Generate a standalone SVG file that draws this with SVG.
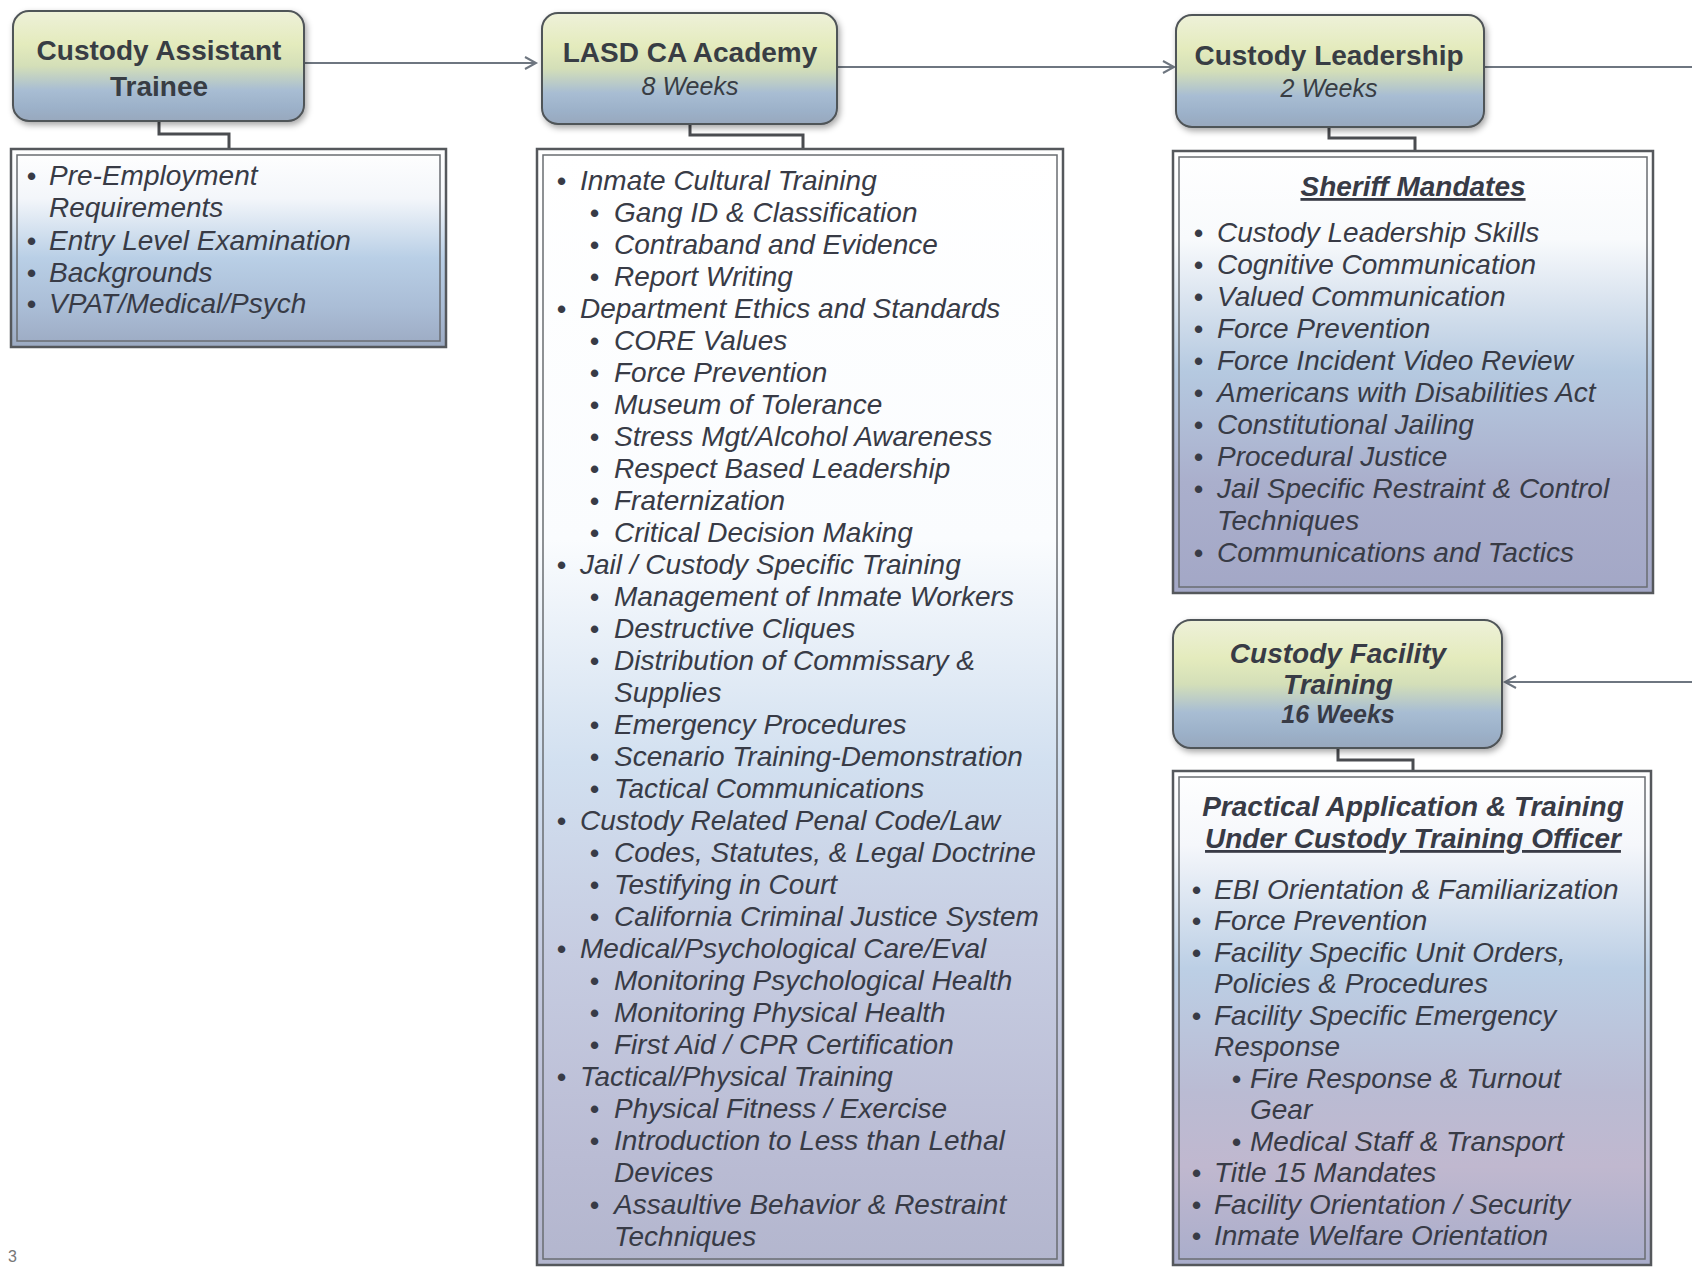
<svg xmlns="http://www.w3.org/2000/svg" width="1692" height="1269" viewBox="0 0 1692 1269">
  <style>
    .hdr { stroke: #505458; stroke-width: 2; }
    .ht { font-family: "Liberation Sans", Arial, sans-serif; font-size: 28px; font-weight: bold; fill: #383d44; text-anchor: middle; }
    .hw { font-family: "Liberation Sans", Arial, sans-serif; font-size: 25px; font-style: italic; fill: #383d44; text-anchor: middle; }
    .frame { stroke: #55585c; stroke-width: 2.5; }
    .inner { fill: none; stroke: #6a6d72; stroke-width: 1.5; }
    .it { font-family: "Liberation Sans", Arial, sans-serif; font-size: 28px; font-style: italic; fill: #383b46; }
    .ttl { font-family: "Liberation Sans", Arial, sans-serif; font-size: 28px; font-style: italic; font-weight: bold; fill: #383b46; text-anchor: middle; }
    .b { font-family: "Liberation Sans", Arial, sans-serif; font-size: 26px; font-weight: bold; fill: #383b46; }
    .flow { fill: none; stroke: #6e7680; stroke-width: 2; }
    .elbow { fill: none; stroke: #4a4c50; stroke-width: 3; }
  </style>
  <defs>
    <linearGradient id="gHdr" x1="0" y1="0" x2="0" y2="1">
      <stop offset="0" stop-color="#eef1d9"/>
      <stop offset="0.3" stop-color="#e4ebbd"/>
      <stop offset="0.5" stop-color="#d4dfb8"/>
      <stop offset="0.72" stop-color="#a8bdd3"/>
      <stop offset="0.88" stop-color="#9cb1c9"/>
      <stop offset="1" stop-color="#98a8bd"/>
    </linearGradient>
    <linearGradient id="g1" x1="0" y1="0" x2="0" y2="1">
      <stop offset="0" stop-color="#ffffff"/>
      <stop offset="0.25" stop-color="#f3f6fa"/>
      <stop offset="0.55" stop-color="#b9cfe6"/>
      <stop offset="0.8" stop-color="#aabdd6"/>
      <stop offset="1" stop-color="#9caac2"/>
    </linearGradient>
    <linearGradient id="g2" x1="0" y1="0" x2="0" y2="1">
      <stop offset="0" stop-color="#ffffff"/>
      <stop offset="0.35" stop-color="#fafcfe"/>
      <stop offset="0.55" stop-color="#d2e0f0"/>
      <stop offset="0.72" stop-color="#c6cce1"/>
      <stop offset="0.9" stop-color="#babcd4"/>
      <stop offset="1" stop-color="#b3b6ce"/>
    </linearGradient>
    <linearGradient id="g3" x1="0" y1="0" x2="0" y2="1">
      <stop offset="0" stop-color="#ffffff"/>
      <stop offset="0.2" stop-color="#f8fafc"/>
      <stop offset="0.5" stop-color="#b5c9e0"/>
      <stop offset="0.75" stop-color="#aaafcc"/>
      <stop offset="1" stop-color="#a3a7c6"/>
    </linearGradient>
    <linearGradient id="g4" x1="0" y1="0" x2="0" y2="1">
      <stop offset="0" stop-color="#ffffff"/>
      <stop offset="0.15" stop-color="#f5f7fb"/>
      <stop offset="0.4" stop-color="#bccfe5"/>
      <stop offset="0.65" stop-color="#babbd3"/>
      <stop offset="0.8" stop-color="#c0b8cf"/>
      <stop offset="1" stop-color="#a9adcb"/>
    </linearGradient>
    <filter id="shadow" x="-10%" y="-10%" width="125%" height="135%">
      <feDropShadow dx="2" dy="3" stdDeviation="3" flood-color="#000" flood-opacity="0.35"/>
    </filter>
    <marker id="arr" markerWidth="16" markerHeight="16" refX="13" refY="8" orient="auto" markerUnits="userSpaceOnUse">
      <path d="M2,2 L13,8 L2,14" fill="none" stroke="#6e7680" stroke-width="2"/>
    </marker>
  </defs>

  <rect width="1692" height="1269" fill="#ffffff"/>

  <!-- flow and header-to-list connectors -->
  <g id="connectors">
    <path class="flow" d="M304,63 H536" marker-end="url(#arr)"/>
    <path class="flow" d="M837,67 H1174" marker-end="url(#arr)"/>
    <path class="flow" d="M1484,67 H1700 V682 H1505" marker-end="url(#arr)"/>
    <path class="elbow" d="M159,121 V134 H229 V149"/>
    <path class="elbow" d="M690,124 V135 H803 V149"/>
    <path class="elbow" d="M1329,127 V138 H1415 V151"/>
    <path class="elbow" d="M1338,748 V760 H1413 V771"/>
  </g>

  <!-- stage 1 -->
  <g id="trainee">
    <rect class="hdr" x="13" y="11" width="291" height="110" rx="16" fill="url(#gHdr)" filter="url(#shadow)"/>
    <text class="ht" x="159" y="60">Custody Assistant</text>
    <text class="ht" x="159" y="96">Trainee</text>
  </g>
  <g id="trainee-list">
    <rect class="frame" x="11" y="149" width="435" height="198" fill="url(#g1)"/>
    <rect class="inner" x="17" y="155" width="423" height="186"/>
    <text class="b" x="27" y="185">•</text><text class="it" x="49" y="185">Pre-Employment</text>
    <text class="it" x="49" y="217">Requirements</text>
    <text class="b" x="27" y="250">•</text><text class="it" x="49" y="250">Entry Level Examination</text>
    <text class="b" x="27" y="282">•</text><text class="it" x="49" y="282">Backgrounds</text>
    <text class="b" x="27" y="313">•</text><text class="it" x="49" y="313">VPAT/Medical/Psych</text>
  </g>

  <!-- stage 2 -->
  <g id="academy">
    <rect class="hdr" x="542" y="13" width="295" height="111" rx="16" fill="url(#gHdr)" filter="url(#shadow)"/>
    <text class="ht" x="690" y="62">LASD CA Academy</text>
    <text class="hw" x="690" y="95">8 Weeks</text>
  </g>
  <g id="academy-list">
    <rect class="frame" x="537" y="149" width="526" height="1116" fill="url(#g2)"/>
    <rect class="inner" x="543" y="155" width="514" height="1104"/>
    <g class="b">
      <text x="557" y="190">•</text>
      <text x="590" y="222">•</text>
      <text x="590" y="254">•</text>
      <text x="590" y="286">•</text>
      <text x="557" y="318">•</text>
      <text x="590" y="350">•</text>
      <text x="590" y="382">•</text>
      <text x="590" y="414">•</text>
      <text x="590" y="446">•</text>
      <text x="590" y="478">•</text>
      <text x="590" y="510">•</text>
      <text x="590" y="542">•</text>
      <text x="557" y="574">•</text>
      <text x="590" y="606">•</text>
      <text x="590" y="638">•</text>
      <text x="590" y="670">•</text>
      <text x="590" y="734">•</text>
      <text x="590" y="766">•</text>
      <text x="590" y="798">•</text>
      <text x="557" y="830">•</text>
      <text x="590" y="862">•</text>
      <text x="590" y="894">•</text>
      <text x="590" y="926">•</text>
      <text x="557" y="958">•</text>
      <text x="590" y="990">•</text>
      <text x="590" y="1022">•</text>
      <text x="590" y="1054">•</text>
      <text x="557" y="1086">•</text>
      <text x="590" y="1118">•</text>
      <text x="590" y="1150">•</text>
      <text x="590" y="1214">•</text>
    </g>
    <g class="it">
      <text x="580" y="190">Inmate Cultural Training</text>
      <text x="614" y="222">Gang ID &amp; Classification</text>
      <text x="614" y="254">Contraband and Evidence</text>
      <text x="614" y="286">Report Writing</text>
      <text x="580" y="318">Department Ethics and Standards</text>
      <text x="614" y="350">CORE Values</text>
      <text x="614" y="382">Force Prevention</text>
      <text x="614" y="414">Museum of Tolerance</text>
      <text x="614" y="446">Stress Mgt/Alcohol Awareness</text>
      <text x="614" y="478">Respect Based Leadership</text>
      <text x="614" y="510">Fraternization</text>
      <text x="614" y="542">Critical Decision Making</text>
      <text x="580" y="574">Jail / Custody Specific Training</text>
      <text x="614" y="606">Management of Inmate Workers</text>
      <text x="614" y="638">Destructive Cliques</text>
      <text x="614" y="670">Distribution of Commissary &amp;</text>
      <text x="614" y="702">Supplies</text>
      <text x="614" y="734">Emergency Procedures</text>
      <text x="614" y="766">Scenario Training-Demonstration</text>
      <text x="614" y="798">Tactical Communications</text>
      <text x="580" y="830">Custody Related Penal Code/Law</text>
      <text x="614" y="862">Codes, Statutes, &amp; Legal Doctrine</text>
      <text x="614" y="894">Testifying in Court</text>
      <text x="614" y="926">California Criminal Justice System</text>
      <text x="580" y="958">Medical/Psychological Care/Eval</text>
      <text x="614" y="990">Monitoring Psychological Health</text>
      <text x="614" y="1022">Monitoring Physical Health</text>
      <text x="614" y="1054">First Aid / CPR Certification</text>
      <text x="580" y="1086">Tactical/Physical Training</text>
      <text x="614" y="1118">Physical Fitness / Exercise</text>
      <text x="614" y="1150">Introduction to Less than Lethal</text>
      <text x="614" y="1182">Devices</text>
      <text x="614" y="1214">Assaultive Behavior &amp; Restraint</text>
      <text x="614" y="1246">Techniques</text>
    </g>
  </g>

  <!-- stage 3 -->
  <g id="leadership">
    <rect class="hdr" x="1176" y="15" width="308" height="112" rx="16" fill="url(#gHdr)" filter="url(#shadow)"/>
    <text class="ht" x="1329" y="65">Custody Leadership</text>
    <text class="hw" x="1329" y="97">2 Weeks</text>
  </g>
  <g id="leadership-list">
    <rect class="frame" x="1173" y="151" width="480" height="442" fill="url(#g3)"/>
    <rect class="inner" x="1179" y="157" width="468" height="430"/>
    <text class="ttl" x="1413" y="196" text-decoration="underline">Sheriff Mandates</text>
    <g class="b">
      <text x="1194" y="242">•</text>
      <text x="1194" y="274">•</text>
      <text x="1194" y="306">•</text>
      <text x="1194" y="338">•</text>
      <text x="1194" y="370">•</text>
      <text x="1194" y="402">•</text>
      <text x="1194" y="434">•</text>
      <text x="1194" y="466">•</text>
      <text x="1194" y="498">•</text>
      <text x="1194" y="562">•</text>
    </g>
    <g class="it">
      <text x="1217" y="242">Custody Leadership Skills</text>
      <text x="1217" y="274">Cognitive Communication</text>
      <text x="1217" y="306">Valued Communication</text>
      <text x="1217" y="338">Force Prevention</text>
      <text x="1217" y="370">Force Incident Video Review</text>
      <text x="1217" y="402">Americans with Disabilities Act</text>
      <text x="1217" y="434">Constitutional Jailing</text>
      <text x="1217" y="466">Procedural Justice</text>
      <text x="1217" y="498">Jail Specific Restraint &amp; Control</text>
      <text x="1217" y="530">Techniques</text>
      <text x="1217" y="562">Communications and Tactics</text>
    </g>
  </g>

  <!-- stage 4 -->
  <g id="facility">
    <rect class="hdr" x="1173" y="620" width="329" height="128" rx="18" fill="url(#gHdr)" filter="url(#shadow)"/>
    <text class="ttl" x="1338" y="663">Custody Facility</text>
    <text class="ttl" x="1338" y="694">Training</text>
    <text class="ttl" x="1338" y="723" style="font-size:25px">16 Weeks</text>
  </g>
  <g id="facility-list">
    <rect class="frame" x="1173" y="771" width="478" height="494" fill="url(#g4)"/>
    <rect class="inner" x="1179" y="777" width="466" height="482"/>
    <text class="ttl" x="1413" y="816">Practical Application &amp; Training</text>
    <text class="ttl" x="1413" y="848" text-decoration="underline">Under Custody Training Officer</text>
    <g class="b">
      <text x="1192" y="899">•</text>
      <text x="1192" y="930">•</text>
      <text x="1192" y="962">•</text>
      <text x="1192" y="1025">•</text>
      <text x="1232" y="1088">•</text>
      <text x="1232" y="1151">•</text>
      <text x="1192" y="1182">•</text>
      <text x="1192" y="1214">•</text>
      <text x="1192" y="1245">•</text>
    </g>
    <g class="it">
      <text x="1214" y="899">EBI Orientation &amp; Familiarization</text>
      <text x="1214" y="930">Force Prevention</text>
      <text x="1214" y="962">Facility Specific Unit Orders,</text>
      <text x="1214" y="993">Policies &amp; Procedures</text>
      <text x="1214" y="1025">Facility Specific Emergency</text>
      <text x="1214" y="1056">Response</text>
      <text x="1250" y="1088">Fire Response &amp; Turnout</text>
      <text x="1250" y="1119">Gear</text>
      <text x="1250" y="1151">Medical Staff &amp; Transport</text>
      <text x="1214" y="1182">Title 15 Mandates</text>
      <text x="1214" y="1214">Facility Orientation / Security</text>
      <text x="1214" y="1245">Inmate Welfare Orientation</text>
    </g>
  </g>

  <!-- page number in the lower left corner -->
  <text x="8" y="1262" style="font-family:'Liberation Sans',Arial,sans-serif;font-size:16px;fill:#777">3</text>
</svg>
